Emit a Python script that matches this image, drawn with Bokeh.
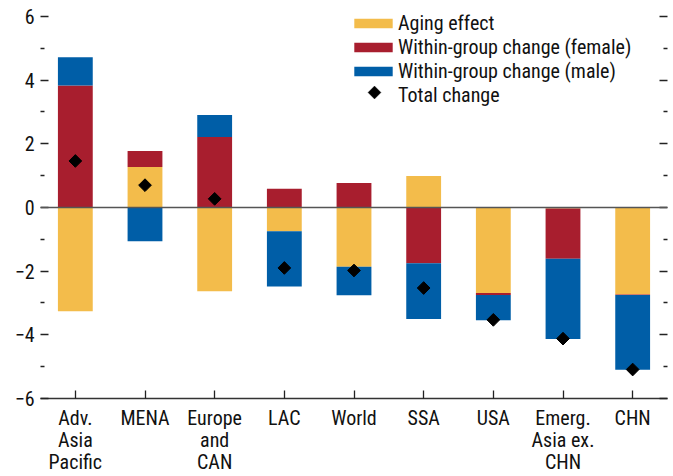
import numpy as np
from bokeh.plotting import figure
from bokeh.models import (FactorRange, Range1d, LinearAxis, FixedTicker, Span,
                          Legend, LegendItem, ColumnDataSource, PolyAnnotation)
from bokeh.embed import file_html
from bokeh.resources import INLINE

categories = ["Adv.\nAsia\nPacific", "MENA", "Europe\nand\nCAN", "LAC", "World",
              "SSA", "USA", "Emerg.\nAsia ex.\nCHN", "CHN"]
aging = [-3.26, 1.27, -2.63, -0.75, -1.86, 0.99, -2.69, -0.03, -2.73]
female = [3.83, 0.50, 2.21, 0.59, 0.77, -1.75, -0.06, -1.58, -0.02]
male = [0.89, -1.06, 0.69, -1.73, -0.90, -1.75, -0.79, -2.52, -2.35]
total = [1.46, 0.70, 0.27, -1.90, -1.98, -2.53, -3.53, -4.12, -5.09]

series_names = ["Aging effect", "Within-group change (female)", "Within-group change (male)"]
series_vals = [aging, female, male]
colors = ["#F3BC4B", "#A81E2E", "#005EA7"]

y_ticks = [-6, -4, -2, 0, 2, 4, 6]
y_minor = [-5, -3, -1, 1, 3, 5]
y_labels = ["\u22126", "\u22124", "\u22122", "0", "2", "4", "6"]

FONT = "'Roboto Condensed', 'DejaVu Sans Condensed', 'Liberation Sans'"
TXT = "#111111"
FS = "20px"

# y range extends half a unit above the top tick so the legend is not clipped
p = figure(x_range=FactorRange(*categories), y_range=Range1d(-6, 6.5),
           width=673, height=476, output_backend="svg", toolbar_location=None,
           min_border_left=40, min_border_right=6, min_border_top=0,
           min_border_bottom=77, y_axis_location=None)
p.outline_line_color = None
p.xgrid.grid_line_color = None
p.ygrid.grid_line_color = None
p.background_fill_color = "white"
p.border_fill_color = "white"

pos = np.zeros(len(categories))
neg = np.zeros(len(categories))
renderers = []
for name, vals, col in zip(series_names, series_vals, colors):
    v = np.array(vals, dtype=float)
    bottom = np.where(v >= 0, pos, neg)
    top = bottom + v
    pos = np.where(v >= 0, top, pos)
    neg = np.where(v < 0, top, neg)
    src = ColumnDataSource(dict(x=categories, bottom=bottom, top=top))
    r = p.vbar(x="x", bottom="bottom", top="top", width=0.5, source=src,
               fill_color=col, line_color=None)
    renderers.append(r)

tsrc = ColumnDataSource(dict(x=categories, y=total))
rt = p.scatter(x="x", y="y", source=tsrc, marker="square", angle=np.pi / 4,
               size=9, fill_color="black", line_color="black")
# empty stand-in renderer for the legend entry (diamond drawn separately)
rdummy = p.scatter(x=[], y=[], marker="square", fill_alpha=0, line_alpha=0)

p.add_layout(Span(location=0, dimension="width", line_color="#555555", line_width=1.5))

# x axis
xa = p.xaxis[0]
xa.axis_line_color = "#333333"
xa.axis_line_width = 1.5
xa.major_tick_line_color = "#222222"
xa.major_tick_line_width = 1.3
xa.major_tick_in = 8
xa.major_tick_out = 0
xa.minor_tick_line_color = None
xa.major_label_text_font = FONT
xa.major_label_text_font_size = FS
xa.major_label_text_color = TXT
xa.major_label_text_line_height = 0.92
xa.major_label_standoff = 7
xa.major_label_orientation = "horizontal"

ticker = FixedTicker(ticks=y_ticks, minor_ticks=y_minor)
overrides = {t: l for t, l in zip(y_ticks, y_labels)}

ya = LinearAxis(ticker=ticker, major_label_overrides=overrides)
ya.axis_line_color = None
ya.major_tick_line_color = "#222222"
ya.minor_tick_line_color = "#222222"
ya.major_tick_line_width = 1.3
ya.minor_tick_line_width = 1.3
ya.major_tick_in = 8
ya.major_tick_out = 0
ya.minor_tick_in = 4
ya.minor_tick_out = 0
ya.major_label_text_font = FONT
ya.major_label_text_font_size = FS
ya.major_label_text_color = TXT
ya.major_label_standoff = 6
p.add_layout(ya, "left")

ra = LinearAxis(ticker=ticker)
ra.axis_line_color = None
ra.major_tick_line_color = "#222222"
ra.minor_tick_line_color = "#222222"
ra.major_tick_line_width = 1.3
ra.minor_tick_line_width = 1.3
ra.major_tick_in = 8
ra.major_tick_out = 0
ra.minor_tick_in = 4
ra.minor_tick_out = 0
ra.major_label_text_font_size = "0px"
ra.major_label_standoff = 0
p.add_layout(ra, "right")

items = [LegendItem(label=n, renderers=[r]) for n, r in zip(series_names, renderers)]
items.append(LegendItem(label="Total change", renderers=[rdummy]))
legend = Legend(items=items, location=(309, 291), orientation="vertical",
                border_line_color=None, background_fill_alpha=0,
                padding=0, margin=0, spacing=0,
                glyph_width=48, glyph_height=12, label_height=23,
                label_standoff=1,
                label_text_font=FONT, label_text_font_size=FS,
                label_text_color=TXT)
p.add_layout(legend)

# legend diamond symbol (screen units: from frame left / frame bottom)
cx, cy, hr = 334, 306, 6.5
p.add_layout(PolyAnnotation(xs=[cx - hr, cx, cx + hr, cx], ys=[cy, cy + hr, cy, cy - hr],
                            xs_units="screen", ys_units="screen",
                            fill_color="black", fill_alpha=1, line_color="black"))

open("out.html", "w").write(file_html(p, INLINE))
